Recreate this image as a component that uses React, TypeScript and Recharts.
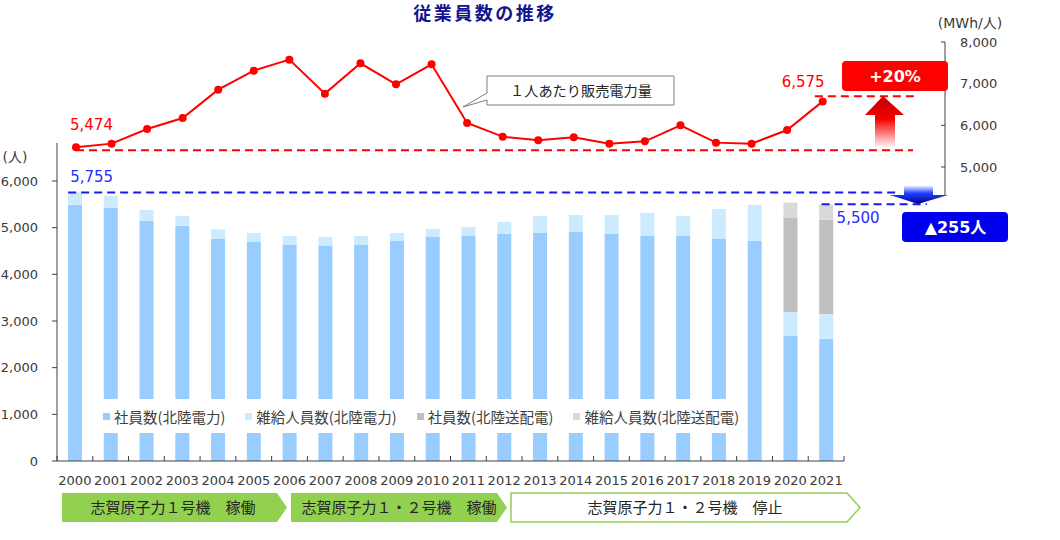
import React from 'react';
import {
  BarChart,
  Bar,
  XAxis,
  YAxis,
  Legend,
  LineChart,
  Line,
  ReferenceLine,
  LabelList,
} from 'recharts';

// ---------- data ----------
const years = [
  '2000', '2001', '2002', '2003', '2004', '2005', '2006', '2007', '2008', '2009', '2010',
  '2011', '2012', '2013', '2014', '2015', '2016', '2017', '2018', '2019', '2020', '2021',
];
const shainHokuriku = [
  5492, 5428, 5149, 5042, 4757, 4692, 4628, 4607, 4628, 4714, 4800,
  4821, 4864, 4885, 4907, 4864, 4821, 4821, 4757, 4714, 2678, 2621,
];
const zakkyuHokuriku = [
  263, 257, 229, 208, 207, 193, 193, 193, 193, 171, 171,
  193, 257, 365, 364, 407, 493, 429, 643, 778, 515, 529,
];
const shainSohaiden = [
  0, 0, 0, 0, 0, 0, 0, 0, 0, 0, 0,
  0, 0, 0, 0, 0, 0, 0, 0, 0, 2014, 2020,
];
const zakkyuSohaiden = [
  0, 0, 0, 0, 0, 0, 0, 0, 0, 0, 0,
  0, 0, 0, 0, 0, 0, 0, 0, 0, 328, 330,
];
const salesPerPerson = [
  5474, 5561, 5912, 6176, 6857, 7313, 7577, 6761, 7489, 6985, 7465,
  6056, 5729, 5641, 5713, 5561, 5617, 6001, 5585, 5561, 5888, 6575,
];
const seriesNames = ['社員数(北陸電力)', '雑給人員数(北陸電力)', '社員数(北陸送配電)', '雑給人員数(北陸送配電)'];
const seriesColors = ['#99CCFF', '#CCEBFF', '#BFBFBF', '#D9D9D9'];
const leftTicks = [0, 1000, 2000, 3000, 4000, 5000, 6000];
const rightTicks = [5000, 6000, 7000, 8000];
const employeesBase = 5755;
const employeesLatest = 5500;
const salesBaseLine = 5400;
const salesLatestLine = 6700;
const phases = ['志賀原子力１号機　稼働', '志賀原子力１・２号機　稼働', '志賀原子力１・２号機　停止'];

const barData = years.map((y, i) => ({
  year: y,
  a: shainHokuriku[i],
  b: zakkyuHokuriku[i],
  c: shainSohaiden[i],
  d: zakkyuSohaiden[i],
}));
const lineData = years.map((y, i) => ({ year: Number(y), v: salesPerPerson[i] }));

// ---------- layout ----------
const W = 1060;
const H = 540;
const PLOT_R = 844;
const PLOT_L = 57;
const PLOT_T = 143;
const PLOT_B = 461;
const BAND = (PLOT_R - PLOT_L) / years.length;
const LEFT_MAX = 6814;

const L2_LEFT = 58;
const L2_RIGHT = 945;
const L2_TOP = 42;
const L2_BOTTOM = 195;
const X_STEP = 35.556;
const X0_PX = 76;
const X_MIN = 2000 - (X0_PX - L2_LEFT) / X_STEP;
const X_MAX = 2000 + (L2_RIGHT - X0_PX) / X_STEP;
const R_MIN = 8000 - ((L2_BOTTOM - L2_TOP) / 41.667) * 1000;
const L_TOP_VAL = ((PLOT_B - L2_TOP) / ((PLOT_B - 181) / 6)) * 1000;
const L_BOT_VAL = ((PLOT_B - L2_BOTTOM) / ((PLOT_B - 181) / 6)) * 1000;

const NUM = '"DejaVu Sans", "Noto Sans CJK JP", sans-serif';
const JP = '"Noto Sans CJK JP", sans-serif';
const fmt = (v: number) => v.toLocaleString('en-US');

function XTick(props: any) {
  const { x, y, payload, index } = props;
  const last = index === years.length - 1;
  return (
    <g>
      <line x1={x - BAND / 2} x2={x - BAND / 2} y1={y} y2={y - 5} stroke="#404040" />
      {last && <line x1={x + BAND / 2} x2={x + BAND / 2} y1={y} y2={y - 5} stroke="#404040" />}
      <text x={x} y={y + 23.5} textAnchor="middle" fontSize={13} fill="#3a3a3a" fontFamily={NUM}>
        {payload.value}
      </text>
    </g>
  );
}

function renderLegend(props: any) {
  const payload = [...(props.payload || [])].sort(
    (p: any, q: any) => seriesNames.indexOf(p.value) - seriesNames.indexOf(q.value)
  );
  return (
    <div
      style={{
        display: 'flex',
        alignItems: 'center',
        height: '100%',
        paddingLeft: 21,
        gap: 20,
        fontSize: 14.5,
        color: '#404040',
        fontFamily: JP,
        background: '#fff',
        whiteSpace: 'nowrap',
      }}
    >
      {payload.map((p: any, i: number) => (
        <span key={i} style={{ display: 'flex', alignItems: 'center' }}>
          <span style={{ width: 7, height: 7, background: p.color, marginRight: 4, display: 'inline-block' }} />
          {p.value}
        </span>
      ))}
    </div>
  );
}

function LineLabel(props: any) {
  const { x, y, value, index } = props;
  if (index === 0) {
    return (
      <text x={x - 6} y={y - 17} fontSize={15} fill="#FF0000" fontFamily={NUM}>
        {fmt(value)}
      </text>
    );
  }
  if (index === years.length - 1) {
    return (
      <text x={x - 41} y={y - 14} fontSize={15} fill="#FF0000" fontFamily={NUM}>
        {fmt(value)}
      </text>
    );
  }
  return null;
}

export default function App() {
  return (
    <div style={{ position: 'absolute', left: 0, top: 0, width: W, height: H, background: '#fff', fontFamily: JP }}>
      {/* bars */}
      <div style={{ position: 'absolute', left: 0, top: 0 }}>
        <BarChart
          width={W}
          height={H}
          data={barData}
          margin={{ top: PLOT_T, right: W - PLOT_R, bottom: H - PLOT_B - 30, left: 0 }}
          barSize={14}
        >
          <XAxis
            dataKey="year"
            interval={0}
            tickLine={false}
            tickSize={0}
            tickMargin={0}
            height={30}
            tick={XTick}
            axisLine={{ stroke: '#404040' }}
          />
          <YAxis
            width={PLOT_L}
            domain={[0, LEFT_MAX]}
            ticks={leftTicks}
            allowDataOverflow
            tickSize={5}
            tickMargin={14}
            tickFormatter={fmt}
            tick={{ fontSize: 13, fill: '#3a3a3a', fontFamily: NUM }}
            axisLine={{ stroke: '#404040' }}
            tickLine={{ stroke: '#404040' }}
          />
          <Bar dataKey="a" name={seriesNames[0]} stackId="s" fill={seriesColors[0]} isAnimationActive={false} />
          <Bar dataKey="b" name={seriesNames[1]} stackId="s" fill={seriesColors[1]} isAnimationActive={false} />
          <Bar dataKey="c" name={seriesNames[2]} stackId="s" fill={seriesColors[2]} isAnimationActive={false} />
          <Bar dataKey="d" name={seriesNames[3]} stackId="s" fill={seriesColors[3]} isAnimationActive={false} />
          <Legend
            layout="horizontal"
            verticalAlign="middle"
            align="center"
            content={renderLegend}
            wrapperStyle={{ position: 'absolute', left: 82, top: 399, width: 658, height: 34, background: '#fff' }}
          />
        </BarChart>
      </div>

      {/* line */}
      <div style={{ position: 'absolute', left: 0, top: 0 }}>
        <LineChart
          width={W}
          height={H}
          data={lineData}
          margin={{ top: L2_TOP, right: W - L2_RIGHT - 70, bottom: H - L2_BOTTOM, left: L2_LEFT }}
        >
          <XAxis type="number" dataKey="year" domain={[X_MIN, X_MAX]} allowDataOverflow hide />
          <YAxis
            yAxisId="R"
            orientation="right"
            width={70}
            domain={[R_MIN, 8000]}
            ticks={rightTicks}
            allowDataOverflow
            tickSize={-4}
            tickMargin={19}
            tickFormatter={fmt}
            tick={{ fontSize: 13, fill: '#3a3a3a', fontFamily: NUM, textAnchor: 'start' }}
            axisLine={{ stroke: '#404040' }}
            tickLine={{ stroke: '#404040' }}
          />
          <YAxis yAxisId="L" hide domain={[L_BOT_VAL, L_TOP_VAL]} allowDataOverflow />
          <ReferenceLine
            yAxisId="R"
            segment={[{ x: 2000, y: salesBaseLine }, { x: 2023.54, y: salesBaseLine }]}
            stroke="#FF0000"
            strokeWidth={2}
            strokeDasharray="8 5"
            ifOverflow="visible"
          />
          <ReferenceLine
            yAxisId="R"
            segment={[{ x: 2020.78, y: salesLatestLine }, { x: 2023.65, y: salesLatestLine }]}
            stroke="#FF0000"
            strokeWidth={2}
            strokeDasharray="8 5"
            ifOverflow="visible"
          />
          <ReferenceLine
            yAxisId="L"
            segment={[{ x: 1999.78, y: employeesBase }, { x: 2023.17, y: employeesBase }]}
            stroke="#1A1AEE"
            strokeWidth={2}
            strokeDasharray="8 5"
            ifOverflow="visible"
            label={(p: any) => (
              <text x={p.viewBox.x + 2} y={p.viewBox.y - 10} fontSize={15} fill="#2B2BFF" fontFamily={NUM}>
                {fmt(employeesBase)}
              </text>
            )}
          />
          <ReferenceLine
            yAxisId="L"
            segment={[{ x: 2020.97, y: employeesLatest }, { x: 2023.93, y: employeesLatest }]}
            stroke="#1A1AEE"
            strokeWidth={2}
            strokeDasharray="8 5"
            ifOverflow="visible"
            label={(p: any) => (
              <text x={p.viewBox.x + 15} y={p.viewBox.y + 18.5} fontSize={15} fill="#2B2BFF" fontFamily={NUM}>
                {fmt(employeesLatest)}
              </text>
            )}
          />
          <Line
            yAxisId="R"
            type="linear"
            dataKey="v"
            stroke="#FF0000"
            strokeWidth={2}
            dot={{ r: 4, fill: '#FF0000', stroke: 'none' }}
            isAnimationActive={false}
          >
            <LabelList dataKey="v" content={LineLabel} />
          </Line>
        </LineChart>
      </div>

      {/* annotations */}
      <svg width={W} height={H} style={{ position: 'absolute', left: 0, top: 0, pointerEvents: 'none' }}>
        <defs>
          <linearGradient id="upGrad" x1="0" y1="0" x2="0" y2="1">
            <stop offset="0" stopColor="#C80000" />
            <stop offset="0.45" stopColor="#F40000" />
            <stop offset="1" stopColor="#FFF4F4" />
          </linearGradient>
          <linearGradient id="downGrad" x1="0" y1="0" x2="0" y2="1">
            <stop offset="0" stopColor="#E8ECFF" />
            <stop offset="0.4" stopColor="#2040FF" />
            <stop offset="1" stopColor="#000090" />
          </linearGradient>
        </defs>

        <text x={485} y={20} textAnchor="middle" fontSize={18} fontWeight="bold" fill="#14148F" fontFamily={JP} letterSpacing={2.5}>
          従業員数の推移
        </text>
        <text x={970} y={28} textAnchor="middle" fontSize={14} fill="#3a3a3a" fontFamily={NUM}>
          (MWh/人)
        </text>
        <text x={15} y={162} textAnchor="middle" fontSize={14} fill="#3a3a3a" fontFamily={NUM}>
          (人)
        </text>

        {/* callout */}
        <path d="M487,76 H674 V105 H487 V100 L463,107 L487,93 Z" fill="#fff" stroke="#7F7F7F" strokeWidth={1} />
        <text x={581} y={96} textAnchor="middle" fontSize={14.2} fill="#262626" fontFamily={JP}>
          １人あたり販売電力量
        </text>

        {/* +20% */}
        <rect x={842} y={61} width={106} height={30} rx={4} fill="#FF0000" />
        <text x={895} y={82} textAnchor="middle" fontSize={16} fontWeight="bold" fill="#fff" fontFamily={NUM}>
          +20%
        </text>
        <polygon points="883,96 904,115 895,115 895,147 875,147 875,115 865,115" fill="url(#upGrad)" />

        {/* down arrow & ▲255人 */}
        <polygon points="904,186 933,186 933,195 948,195 918,204 890,195 904,195" fill="url(#downGrad)" />
        <rect x={902} y={212} width={106} height={30} rx={4} fill="#0000EE" />
        <text x={955.5} y={233} textAnchor="middle" fontSize={16} fontWeight="bold" fill="#fff" fontFamily={NUM}>
          ▲255人
        </text>

        {/* phase boxes */}
        <path d="M62,493 H277 L287,507.5 L277,522 H62 Z" fill="#92D050" />
        <path d="M291,493 H497 L507,507.5 L497,522 H291 Z" fill="#92D050" />
        <path d="M511,493 H847 L860,507.5 L847,522 H511 Z" fill="#fff" stroke="#92D050" strokeWidth={1.5} />
        <text x={173} y={512.5} textAnchor="middle" fontSize={15} fill="#262626" fontFamily={JP}>
          {phases[0]}
        </text>
        <text x={399} y={512.5} textAnchor="middle" fontSize={15} fill="#262626" fontFamily={JP}>
          {phases[1]}
        </text>
        <text x={685} y={512.5} textAnchor="middle" fontSize={15} fill="#262626" fontFamily={JP}>
          {phases[2]}
        </text>
      </svg>
    </div>
  );
}
